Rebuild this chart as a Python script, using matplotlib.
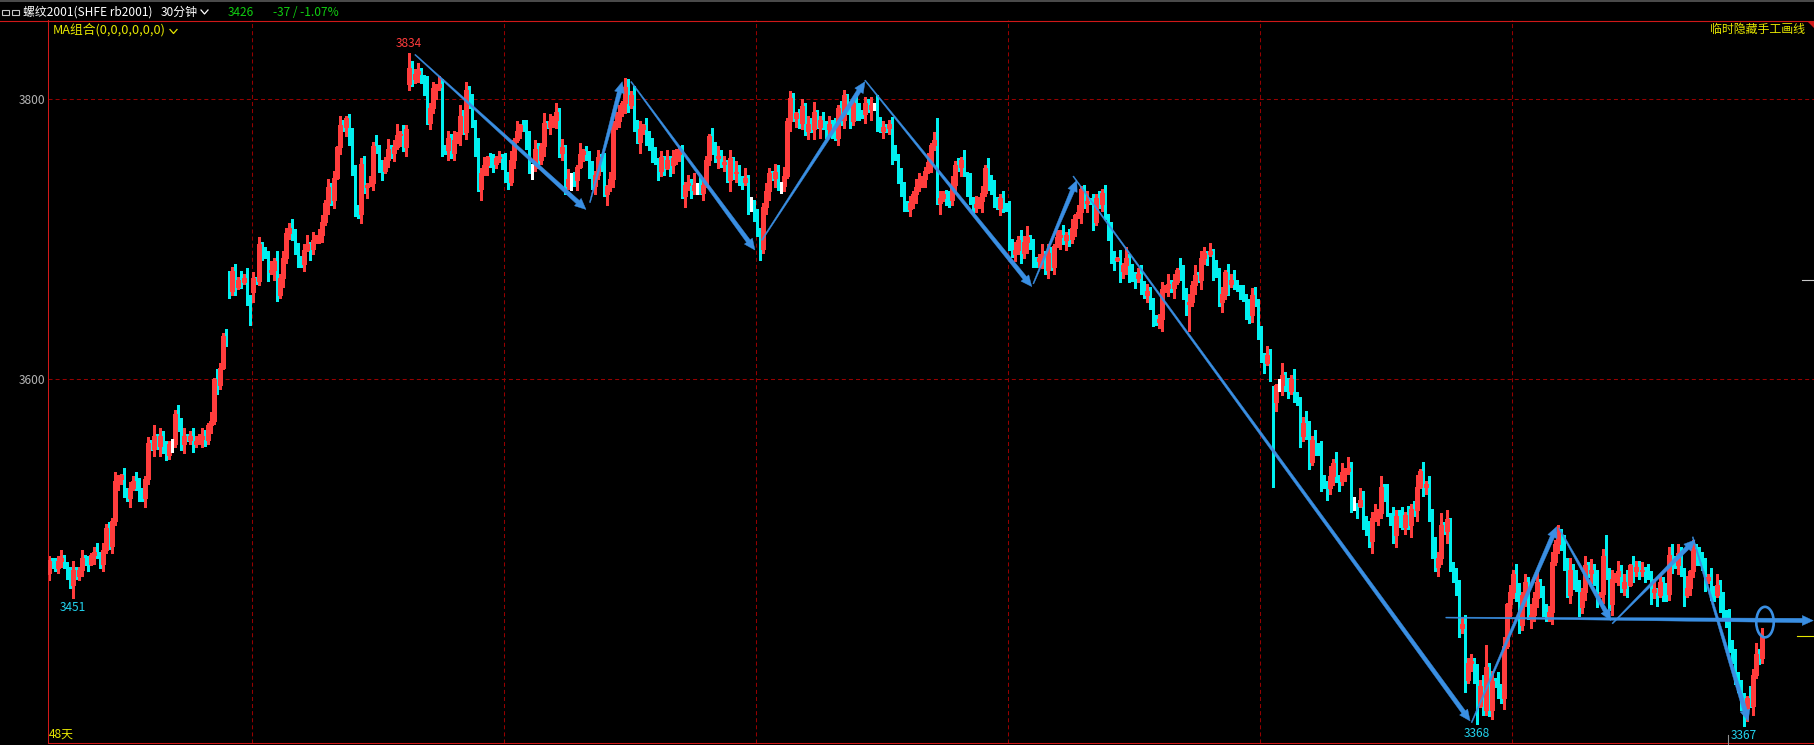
import numpy as np
import matplotlib
matplotlib.use("Agg")
import matplotlib.pyplot as plt
from matplotlib.collections import LineCollection, PolyCollection
from matplotlib.patches import Polygon, Ellipse, Rectangle
from matplotlib.lines import Line2D
from matplotlib.ticker import NullLocator, NullFormatter

plt.rcParams['font.family'] = ['Noto Sans CJK SC', 'DejaVu Sans']
plt.rcParams['lines.scale_dashes'] = False

# rb2001 30-minute closes, oldest first (10 per row)
closes = [
    3476, 3474, 3471, 3476, 3478, 3474, 3468, 3460, 3470, 3466,
    3470, 3478, 3475, 3474, 3480, 3482, 3480, 3474, 3483, 3498,
    3486, 3503, 3530, 3531, 3534, 3523, 3518, 3525, 3530, 3529,
    3520, 3518, 3531, 3556, 3552, 3561, 3554, 3561, 3552, 3548,
    3555, 3555, 3576, 3571, 3555, 3561, 3558, 3561, 3555, 3557,
    3559, 3561, 3558, 3568, 3571, 3600, 3596, 3608, 3630, 3627,
    3662, 3676, 3665, 3670, 3668, 3671, 3657, 3641, 3671, 3669,
    3695, 3689, 3687, 3675, 3677, 3683, 3659, 3671, 3685, 3703,
    3707, 3704, 3691, 3686, 3681, 3691, 3695, 3692, 3698, 3699,
    3702, 3711, 3725, 3736, 3727, 3743, 3765, 3781, 3780, 3786,
    3772, 3747, 3721, 3717, 3753, 3736, 3738, 3739, 3766, 3763,
    3750, 3748, 3756, 3764, 3761, 3765, 3774, 3775, 3765, 3778,
    3823, 3815, 3819, 3821, 3814, 3810, 3783, 3794, 3808, 3809,
    3811, 3765, 3763, 3772, 3761, 3770, 3775, 3788, 3776, 3807,
    3799, 3783, 3765, 3735, 3746, 3752, 3758, 3755, 3753, 3757,
    3758, 3756, 3744, 3740, 3756, 3770, 3777, 3781, 3780, 3772,
    3750, 3750, 3764, 3756, 3766, 3783, 3780, 3784, 3785, 3791,
    3761, 3765, 3737, 3742, 3742, 3741, 3751, 3760, 3762, 3758,
    3748, 3737, 3745, 3758, 3755, 3731, 3737, 3742, 3780, 3784,
    3791, 3797, 3809, 3796, 3803, 3783, 3769, 3778, 3781, 3774,
    3766, 3760, 3755, 3748, 3758, 3750, 3756, 3752, 3757, 3760,
    3762, 3730, 3738, 3739, 3734, 3738, 3738, 3732, 3738, 3756,
    3773, 3766, 3757, 3759, 3753, 3754, 3741, 3757, 3746, 3747,
    3741, 3740, 3743, 3723, 3723, 3719, 3702, 3692, 3722, 3733,
    3746, 3743, 3747, 3737, 3737, 3744, 3784, 3801, 3786, 3790,
    3783, 3795, 3777, 3782, 3778, 3791, 3780, 3785, 3782, 3778,
    3782, 3779, 3772, 3794, 3785, 3803, 3790, 3784, 3797, 3793,
    3790, 3789, 3797, 3793, 3796, 3796, 3784, 3777, 3780, 3779,
    3782, 3761, 3758, 3746, 3733, 3725, 3720, 3725, 3731, 3736,
    3741, 3742, 3748, 3754, 3767, 3770, 3725, 3728, 3731, 3729,
    3727, 3738, 3752, 3751, 3756, 3746, 3738, 3725, 3722, 3724,
    3726, 3732, 3750, 3741, 3735, 3728, 3721, 3728, 3723, 3721,
    3697, 3688, 3691, 3698, 3689, 3697, 3700, 3693, 3685, 3683,
    3685, 3688, 3677, 3689, 3679, 3694, 3700, 3702, 3698, 3702,
    3699, 3707, 3716, 3718, 3735, 3725, 3726, 3725, 3711, 3728,
    3724, 3732, 3715, 3704, 3686, 3684, 3685, 3676, 3680, 3685,
    3674, 3673, 3671, 3674, 3668, 3659, 3662, 3650, 3643, 3640,
    3642, 3663, 3664, 3667, 3664, 3668, 3677, 3675, 3660, 3653,
    3654, 3666, 3673, 3670, 3685, 3689, 3688, 3690, 3676, 3675,
    3654, 3660, 3675, 3667, 3670, 3669, 3663, 3661, 3658, 3649,
    3645, 3659, 3653, 3636, 3616, 3611, 3617, 3604, 3584, 3596,
    3596, 3603, 3595, 3592, 3600, 3590, 3583, 3561, 3570, 3566,
    3543, 3558, 3554, 3551, 3530, 3529, 3525, 3533, 3542, 3531,
    3530, 3536, 3537, 3539, 3514, 3514, 3513, 3517, 3504, 3497,
    3489, 3505, 3506, 3508, 3526, 3523, 3507, 3506, 3493, 3506,
    3505, 3499, 3507, 3500, 3511, 3510, 3526, 3537, 3526, 3528,
    3508, 3485, 3472, 3478, 3500, 3496, 3504, 3470, 3468, 3456,
    3431, 3434, 3397, 3408, 3409, 3399, 3380, 3393, 3377, 3405,
    3377, 3396, 3394, 3390, 3385, 3419, 3447, 3455, 3467, 3455,
    3433, 3453, 3462, 3439, 3440, 3451, 3462, 3453, 3444, 3439,
    3442, 3475, 3487, 3495, 3487, 3477, 3453, 3470, 3463, 3458,
    3445, 3455, 3473, 3468, 3470, 3462, 3453, 3454, 3479, 3468,
    3447, 3464, 3466, 3469, 3458, 3462, 3460, 3473, 3469, 3472,
    3469, 3470, 3468, 3466, 3455, 3457, 3453, 3462, 3455, 3454,
    3480, 3476, 3473, 3481, 3469, 3453, 3458, 3469, 3484, 3481,
    3479, 3473, 3463, 3465, 3458, 3453, 3460, 3447, 3441, 3438,
    3420, 3410, 3400, 3392, 3384, 3378, 3385, 3380, 3400, 3414,
    3411, 3426,
]
# bars whose open is not the previous close (session gaps)
gap_opens = {0: 3468, 60: 3672, 68: 3661, 120: 3811, 404: 3629, 408: 3588}

# wick lengths (price points above / below the body), 10 bars per row
up_rows = [
    "3243521462", "2524136253", "4263152436", "3524271535", "2436251354",
    "3542617325", "4352637241", "5243627354", "3625147263", "4526351742",
    "3752461538", "4627358263", "2536247352", "6425371846", "3527461352",
    "4253627145", "5364271536", "3627451824", "4735261547", "5246372615",
    "3652417364", "4526381753", "2637452618", "5372641536", "4265372541",
    "3526471362", "6372541826", "4253617342", "3562471526", "5237164523",
    "4635271846", "3527461352", "5263748261", "3726415372", "4615237263",
    "5362741628", "3724615372", "4527361854", "6372541628", "3526471352",
    "7563826471", "4826371548", "5372641738", "3627451862", "6483725164",
    "4726358162", "5374826153", "7463528476", "3728461537", "6253748263",
    "4735261847", "5362748153", "3627458164", "4526371536", "5736428163",
    "4352617382", "6372541847", "35",
]
dn_rows = [
    "5323434292", "3425162352", "2536342615", "4263152734", "3527461352",
    "2643526314", "5362415372", "3526174263", "4637251842", "3528461537",
    "5263748152", "3725461836", "4536271548", "2637452815", "5362817463",
    "3745261538", "4826371546", "3562847152", "5263718462", "4375261837",
    "3627451864", "5284637152", "4637251846", "3526471835", "6273541726",
    "4536271846", "3725461538", "5362847153", "4827361546", "3562741826",
    "5463728154", "3827461552", "6253748164", "4736251837", "5362847162",
    "3526471856", "6473825162", "4826371548", "5362748163", "3748261537",
    "6528471536", "4735261847", "5263748462", "7362548174", "4826371658",
    "6253847165", "5736428163", "6382547133", "4625371846", "5372846153",
    "3826471562", "6453728164", "4726358173", "5362847165", "4826371548",
    "6372841536", "5263748162", "43",
]
long_up = {120: 11, 192: 7, 296: 16, 479: 15, 519: 14}
long_dn = {8: 9, 380: 19, 408: 58, 476: 12, 565: 11}

price_ticks = [3600, 3800]
week_marks = [67.75, 151.75, 235.75, 319.75, 403.75, 487.75]

# labelled extremes: bar, price, text, above?
extremes = [(120, 3834, "3834", True), (8, 3451, "3451", False),
            (476, 3368, "3368", False), (565, 3367, "3367", False)]

# hand-drawn arrows (bar, price) -> (bar, price)
arrows = [
    (122.0, 3833, 179.0, 3720),
    (180.3, 3725, 191.1, 3813),
    (194.0, 3813, 235.3, 3691),
    (237.6, 3698, 272.0, 3813),
    (272.0, 3814, 327.6, 3665),
    (328.1, 3667, 342.6, 3741),
    (341.4, 3744, 473.7, 3370),
    (474.2, 3369, 502.6, 3499),
    (503.3, 3498, 520.6, 3436),
    (521.1, 3434, 548.7, 3490),
    (547.9, 3492, 566.4, 3370),
    (465.6, 3438, 588.1, 3436),
]
ring = (572.0, 3435)

W, H = 1815, 745
RED = '#ff3c3c'
CYAN = '#00f0f0'
GRID = '#960000'
AXIS = '#d01818'
BLUE = '#3a8fe3'
YELLOW = '#e6e600'
GREEN = '#10cc10'


def fx(x):
    return x / W


def fy(y):
    return 1 - y / H


fig = plt.figure(figsize=(W / 100, H / 100), dpi=100, facecolor='black')
ax = fig.add_axes([fx(48), fy(743.3), (W - 48) / W, (743.3 - 20) / H])
ax.set_facecolor('black')
ax.set_yscale('log')
ax.set_xlim(-1 / 3, (W - 49) / 3)
ax.set_ylim(3355.5, 3858.7)

for s in ['top', 'right']:
    ax.spines[s].set_visible(False)
for s in ['left', 'bottom']:
    ax.spines[s].set_color(AXIS)
    ax.spines[s].set_linewidth(0.75)

ax.set_xticks([])
ax.set_yticks(price_ticks, labels=[str(p) for p in price_ticks])
ax.yaxis.set_minor_locator(NullLocator())
ax.yaxis.set_minor_formatter(NullFormatter())
ax.tick_params(axis='y', length=0, pad=2.2, labelsize=8.6, labelcolor='#b4b4b4')

for p in price_ticks:
    ax.axhline(p, color=GRID, lw=0.75, dashes=(2.9, 2.2), zorder=0.5)
for m in week_marks:
    ax.axvline(m, color=GRID, lw=0.75, dashes=(2.9, 2.2), zorder=0.5)

# candles
n = len(closes)
c = np.array(closes, float)
o = np.array([gap_opens.get(i, closes[i - 1]) for i in range(n)], float)
uw = np.array([int(ch) for ch in "".join(up_rows)], float)
dw = np.array([int(ch) for ch in "".join(dn_rows)], float)
for i, v in long_up.items():
    uw[i] = v
for i, v in long_dn.items():
    dw[i] = v
hi = np.maximum(o, c) + uw
lo = np.minimum(o, c) - dw

hw = 0.4
rise = np.where(c > o)[0]
fall = np.where(c < o)[0]
flat = np.where(c == o)[0]

red_seg = []
for i in rise:
    red_seg.append([(i, hi[i]), (i, c[i])])
    red_seg.append([(i, o[i]), (i, lo[i])])
red_box = [[(i - hw, o[i]), (i - hw, c[i]), (i + hw, c[i]), (i + hw, o[i])] for i in rise]
cy_seg = [[(i, hi[i]), (i, lo[i])] for i in fall]
cy_box = [[(i - hw, o[i]), (i - hw, c[i]), (i + hw, c[i]), (i + hw, o[i])] for i in fall]
wh_seg = [[(i, hi[i]), (i, lo[i])] for i in flat] + \
         [[(i - hw, c[i]), (i + hw, c[i])] for i in flat]

ax.add_collection(LineCollection(cy_seg, colors=CYAN, linewidths=0.75, antialiaseds=False, zorder=2))
ax.add_collection(PolyCollection(cy_box, facecolors=CYAN, edgecolors=CYAN, linewidths=0.5,
                                 antialiaseds=False, zorder=3))
ax.add_collection(LineCollection(red_seg, colors=RED, linewidths=0.75, antialiaseds=False, zorder=2))
ax.add_collection(PolyCollection(red_box, facecolors='black', edgecolors=RED, linewidths=0.75,
                                 antialiaseds=False, zorder=3))
ax.add_collection(LineCollection(wh_seg, colors='white', linewidths=0.75, antialiaseds=False, zorder=3))

for i, p, txt, above in extremes:
    ax.annotate(txt, (i, p), xytext=(0, 6.8 if above else -6.8), textcoords='offset points',
                ha='center', va='center', fontsize=8.6,
                color=RED if above else '#22d3ee', zorder=5)

# hand-drawn tapered arrows, built in pixel space
to_fig = fig.transFigure.inverted()


def draw_arrow(i0, p0, i1, p1, w0=1.0, w1=4.4, head_len=11.0, head_w=10.0):
    a = ax.transData.transform((i0, p0))
    b = ax.transData.transform((i1, p1))
    d = b - a
    u = d / np.hypot(*d)
    nv = np.array([-u[1], u[0]])
    base = b - u * head_len
    pts = [a + nv * w0 / 2, base + nv * w1 / 2, base + nv * head_w / 2, b,
           base - nv * head_w / 2, base - nv * w1 / 2, a - nv * w0 / 2]
    fig.add_artist(Polygon(to_fig.transform(pts), closed=True, transform=fig.transFigure,
                           facecolor=BLUE, edgecolor=BLUE, lw=0.3, zorder=6))


for a in arrows:
    draw_arrow(*a)

rc = to_fig.transform(ax.transData.transform(ring))
fig.add_artist(Ellipse(rc, 17.5 / W, 30.5 / H, fill=False, edgecolor=BLUE, lw=1.9,
                       transform=fig.transFigure, zorder=6))

# frame lines and small markers
fig.add_artist(Rectangle((0, fy(1.8)), 1, 1.8 / H, transform=fig.transFigure,
                         facecolor='#4a4a4a', edgecolor='none'))
fig.add_artist(Line2D([0, 1], [fy(20.5), fy(20.5)], transform=fig.transFigure, color=AXIS, lw=0.8))
fig.add_artist(Polygon([(fx(1807), fy(21)), (fx(1815), fy(21)), (fx(1815), fy(29))],
                       closed=True, transform=fig.transFigure, facecolor=AXIS, edgecolor='none'))
fig.add_artist(Line2D([fx(1797), fx(1815)], [fy(635.5), fy(635.5)], transform=fig.transFigure,
                      color=YELLOW, lw=0.8))
fig.add_artist(Line2D([fx(1802), fx(1815)], [fy(279.5), fy(279.5)], transform=fig.transFigure,
                      color='#c8c8c8', lw=0.8))
fig.add_artist(Line2D([fx(1728.5), fx(1728.5)], [fy(735), fy(745)], transform=fig.transFigure,
                      color='#909090', lw=0.8))

# header
for x0 in (2.5, 11.5):
    fig.add_artist(Rectangle((fx(x0), fy(14.5)), 7 / W, 4.5 / H, transform=fig.transFigure,
                             fill=False, edgecolor='#c8c8c8', lw=0.8))
fig.text(fx(23), fy(12), "螺纹2001(SHFE rb2001)", color='white', fontsize=8.6, va='center', ha='left')
fig.text(fx(161), fy(12), "30分钟", color='white', fontsize=8.6, va='center', ha='left')
fig.add_artist(Line2D([fx(201), fx(204.5), fx(208)], [fy(10), fy(14), fy(10)],
                      transform=fig.transFigure, color='white', lw=0.9))
fig.text(fx(228), fy(12), "3426", color=GREEN, fontsize=8.6, va='center', ha='left')
fig.text(fx(273), fy(12), "-37 / -1.07%", color=GREEN, fontsize=8.6, va='center', ha='left')

fig.text(fx(53), fy(30), "MA组合(0,0,0,0,0,0)", color=YELLOW, fontsize=9.2, va='center', ha='left')
fig.add_artist(Line2D([fx(170), fx(173.5), fx(177)], [fy(29.5), fy(33.5), fy(29.5)],
                      transform=fig.transFigure, color=YELLOW, lw=0.9))
fig.text(fx(1805), fy(29), "临时隐藏手工画线", color=YELLOW, fontsize=8.6, va='center', ha='right')
fig.text(fx(49), fy(734), "48天", color=YELLOW, fontsize=8.6, va='center', ha='left')

fig.savefig("out.png", dpi=100, facecolor='black')
